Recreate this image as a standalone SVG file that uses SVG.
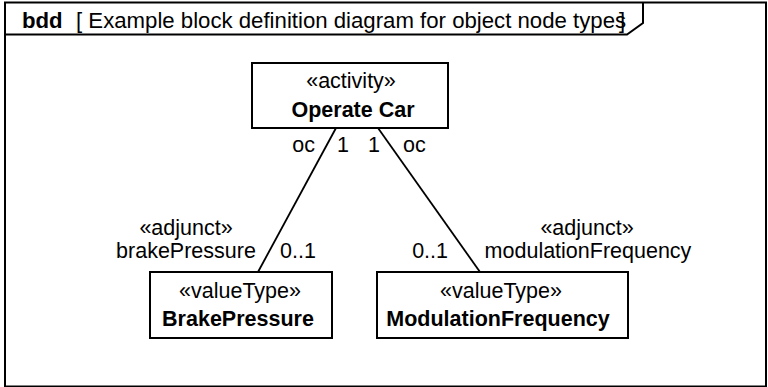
<svg xmlns="http://www.w3.org/2000/svg" width="768" height="387" viewBox="0 0 768 387">
<style>
text{font-family:"Liberation Sans",Arial,sans-serif;font-size:21.5px;fill:#000}
.t{font-size:22.2px}
.b{font-weight:bold}
.c{text-anchor:middle}
.e{text-anchor:end}
.box{fill:#fff;stroke:#000;stroke-width:2}
.ln{fill:none;stroke:#000;stroke-width:1.8}
</style>
<rect x="0" y="0" width="768" height="387" fill="#fff"/>
<g id="frame">
<rect x="5" y="2.5" width="761" height="384" fill="none" stroke="#000" stroke-width="2"/>
<polyline points="5,34.5 627,34.5 643,23 643,2.5" fill="none" stroke="#000" stroke-width="2"/>
<text x="22" y="28" class="b t">bdd</text>
<text x="76" y="28" class="t">[ Example block definition diagram for object node types<tspan dx="-7">]</tspan></text>
</g>
<g id="connectors">
<line class="ln" x1="336" y1="128" x2="258" y2="272"/>
<line class="ln" x1="378" y1="128" x2="480" y2="272"/>
<text x="315" y="152" class="e">oc</text>
<text x="337" y="152">1</text>
<text x="368" y="152">1</text>
<text x="403" y="152">oc</text>
<text x="186" y="235" class="c">«adjunct»</text>
<text x="186" y="258" class="c">brakePressure</text>
<text x="280" y="258">0..1</text>
<text x="448" y="258" class="e">0..1</text>
<text x="587" y="235" class="c">«adjunct»</text>
<text x="588" y="258" class="c">modulationFrequency</text>
</g>
<g id="operateCar">
<rect class="box" x="252" y="63" width="196" height="65"/>
<text x="351" y="88" class="c">«activity»</text>
<text x="353" y="117" class="c b">Operate Car</text>
</g>
<g id="brakePressure">
<rect class="box" x="150" y="272" width="182" height="66"/>
<text x="240" y="298" class="c">«valueType»</text>
<text x="238" y="326" class="c b">BrakePressure</text>
</g>
<g id="modulationFrequency">
<rect class="box" x="377" y="272" width="251" height="66"/>
<text x="501" y="298" class="c">«valueType»</text>
<text x="498" y="326" class="c b">ModulationFrequency</text>
</g>
</svg>
